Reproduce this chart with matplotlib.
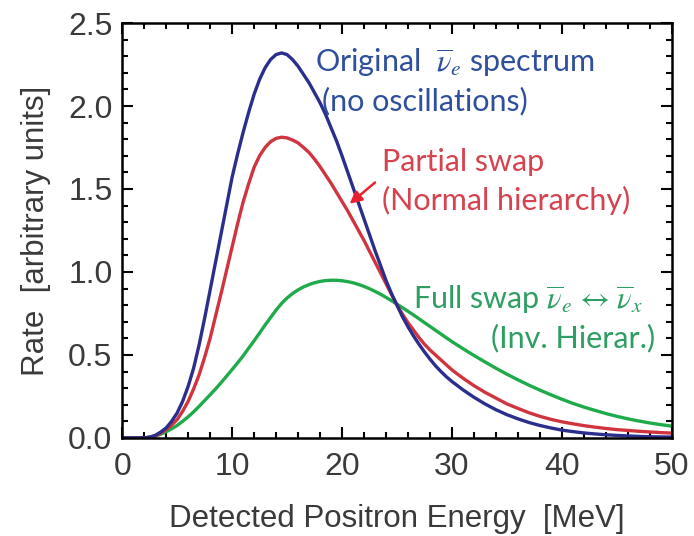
import numpy as np
import matplotlib.pyplot as plt
from matplotlib.ticker import MultipleLocator

# Energy grid (MeV): half-MeV steps where the curves bend, then 1 MeV
energy = np.concatenate([[0, 1], np.arange(2, 30.5, 0.5), np.arange(31, 51, 1)])

original = [0, 0,
            0, 0.005, 0.015, 0.035, 0.06, 0.10, 0.15, 0.22, 0.31, 0.42,
            0.56, 0.72, 0.89, 1.06, 1.23, 1.40, 1.57, 1.71, 1.84, 1.96,
            2.07, 2.16, 2.23, 2.28, 2.31, 2.32, 2.31, 2.28, 2.24, 2.19,
            2.14, 2.08, 2.02, 1.95, 1.87, 1.79, 1.70, 1.605, 1.51, 1.415,
            1.32, 1.225, 1.13, 1.04, 0.95, 0.87, 0.80, 0.73, 0.67, 0.615,
            0.565, 0.518, 0.475, 0.435, 0.40, 0.368, 0.34,
            0.29, 0.245, 0.205, 0.17, 0.14, 0.115, 0.093, 0.075, 0.06, 0.047,
            0.038, 0.030, 0.024, 0.019, 0.015, 0.012, 0.009, 0.007, 0.006, 0.005]

partial = [0, 0,
           0, 0.004, 0.012, 0.028, 0.05, 0.077, 0.11, 0.16, 0.22, 0.295,
           0.38, 0.485, 0.60, 0.735, 0.87, 1.01, 1.15, 1.29, 1.42, 1.53,
           1.63, 1.70, 1.75, 1.785, 1.805, 1.812, 1.808, 1.795, 1.778, 1.75,
           1.72, 1.68, 1.635, 1.585, 1.535, 1.48, 1.425, 1.37, 1.31, 1.25,
           1.19, 1.125, 1.06, 0.995, 0.93, 0.865, 0.80, 0.745, 0.695, 0.65,
           0.605, 0.565, 0.53, 0.50, 0.47, 0.44, 0.41,
           0.36, 0.315, 0.275, 0.24, 0.205, 0.178, 0.152, 0.13, 0.112, 0.097,
           0.085, 0.074, 0.065, 0.057, 0.05, 0.045, 0.04, 0.036, 0.032, 0.029]

full = [0, 0,
        0, 0.003, 0.01, 0.022, 0.037, 0.055, 0.075, 0.10, 0.127, 0.157,
        0.19, 0.225, 0.26, 0.295, 0.333, 0.372, 0.412, 0.452, 0.494, 0.54,
        0.585, 0.632, 0.68, 0.725, 0.77, 0.81, 0.843, 0.87, 0.892, 0.91,
        0.924, 0.935, 0.943, 0.948, 0.95, 0.95, 0.947, 0.942, 0.935, 0.925,
        0.913, 0.899, 0.883, 0.866, 0.847, 0.827, 0.806, 0.785, 0.763, 0.741,
        0.718, 0.695, 0.672, 0.649, 0.626, 0.603, 0.58,
        0.538, 0.497, 0.458, 0.42, 0.384, 0.35, 0.318, 0.288, 0.26, 0.233,
        0.208, 0.186, 0.166, 0.147, 0.13, 0.115, 0.102, 0.09, 0.08, 0.071]

plt.rcParams['mathtext.fontset'] = 'stix'

fig = plt.figure(figsize=(6.94, 5.36), dpi=100)
ax = fig.add_axes([0.176, 0.183, 0.792, 0.774])

ax.plot(energy, full, color='#1faa4b', lw=2.4, solid_joinstyle='round')
ax.plot(energy, partial, color='#d0343f', lw=2.4, solid_joinstyle='round')
ax.plot(energy, original, color='#2b2e8c', lw=2.4, solid_joinstyle='round')

ax.set_xlim(0, 50)
ax.set_ylim(0, 2.5)
ax.xaxis.set_major_locator(MultipleLocator(10))
ax.xaxis.set_minor_locator(MultipleLocator(2))
ax.yaxis.set_major_locator(MultipleLocator(0.5))
ax.yaxis.set_minor_locator(MultipleLocator(0.1))
ax.yaxis.set_major_formatter(plt.FormatStrFormatter('%.1f'))
ax.tick_params(which='both', direction='in', top=True, right=True,
               labelsize=23, labelcolor='#3a3a3a', width=1.5)
ax.tick_params(which='major', length=8, pad=7)
ax.tick_params(axis='x', which='major', pad=10)
ax.tick_params(which='minor', length=4)
for s in ax.spines.values():
    s.set_linewidth(1.8)

lab_font = dict(family='Liberation Sans', fontsize=22.5, color='#3a3a3a')
ax.set_xlabel('Detected Positron Energy  [MeV]', labelpad=16, **lab_font)
ax.set_ylabel('Rate  [arbitrary units]', labelpad=12, **lab_font)
for t in ax.get_xticklabels() + ax.get_yticklabels():
    t.set_family('Liberation Sans')

note = dict(family='Lato', fontsize=22)
blue_c = '#2f4f9c'
red_c = '#d6424e'
green_c = '#2e9e62'
ax.text(17.5, 2.265, r'Original  $\overline{\nu}_e$ spectrum', color=blue_c, va='center', **note)
ax.text(18.2, 2.03, '(no oscillations)', color=blue_c, va='center', **note)
ax.text(23.6, 1.66, 'Partial swap', color=red_c, va='center', **note)
ax.text(23.6, 1.43, '(Normal hierarchy)', color=red_c, va='center', **note)
ax.text(26.5, 0.84, r'Full swap $\overline{\nu}_e\,\leftrightarrow\,\overline{\nu}_x$', color=green_c, va='center', **note)
ax.text(48.5, 0.60, '(Inv. Hierar.)', color=green_c, va='center', ha='right', **note)

ax.annotate('', xy=(20.5, 1.40), xytext=(23.2, 1.55),
            arrowprops=dict(arrowstyle='-|>', color='#e8202f', lw=1.8, mutation_scale=18))

fig.savefig('out.png', dpi=100)
